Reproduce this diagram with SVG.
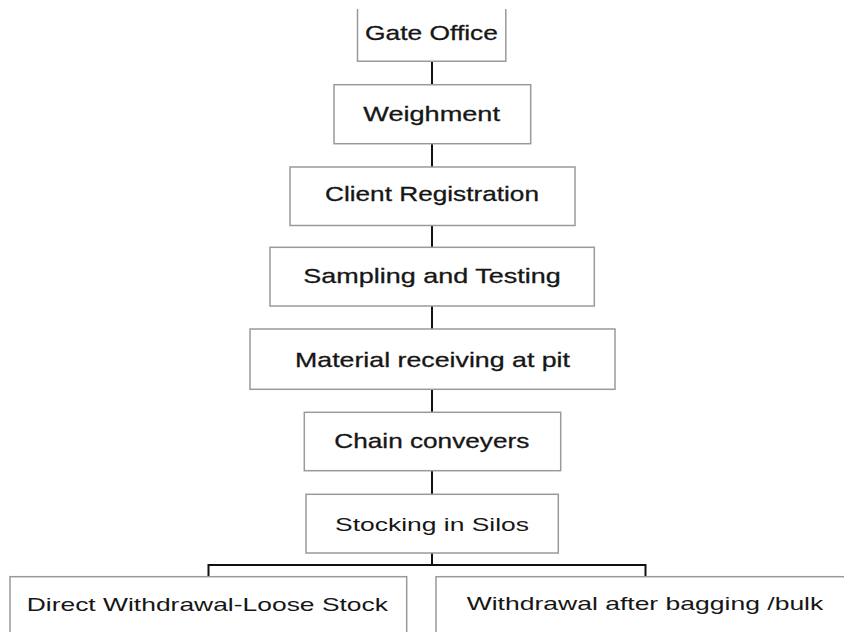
<svg xmlns="http://www.w3.org/2000/svg" width="844" height="632" viewBox="0 0 844 632">
<style>
.box{fill:#fff;stroke:#9a9a9a;stroke-width:1.5}
.lbl{font-family:"Liberation Sans",Arial,sans-serif;font-size:21px;fill:#161616;stroke:#161616;stroke-width:0.3}
.lbl2{font-family:"Liberation Sans",Arial,sans-serif;font-size:19px;fill:#161616}
.con{fill:none;stroke:#111;stroke-width:2}
</style>
<rect width="844" height="632" fill="#fff"/>
<g id="connectors">
<line class="con" x1="432" y1="61" x2="432" y2="85"/>
<line class="con" x1="432" y1="144" x2="432" y2="167"/>
<line class="con" x1="432" y1="225" x2="432" y2="247"/>
<line class="con" x1="432" y1="306" x2="432" y2="329"/>
<line class="con" x1="432" y1="389" x2="432" y2="412"/>
<line class="con" x1="432" y1="471" x2="432" y2="494"/>
<path class="con" d="M432 553 V565 M208.5 577 V565 H645.5 V577"/>
</g>
<g id="gate-office">
<path class="box" d="M357.5 9 V61.3 H505.8 V9"/>
<text class="lbl" x="365" y="39.5" textLength="133" lengthAdjust="spacingAndGlyphs">Gate Office</text>
</g>
<g id="weighment">
<rect class="box" x="334" y="84.7" width="196.7" height="59"/>
<text class="lbl" x="363.3" y="120.7" textLength="136.7" lengthAdjust="spacingAndGlyphs">Weighment</text>
</g>
<g id="client-registration">
<rect class="box" x="290" y="167" width="285" height="58.5"/>
<text class="lbl" x="325" y="201" textLength="214" lengthAdjust="spacingAndGlyphs">Client Registration</text>
</g>
<g id="sampling-testing">
<rect class="box" x="270" y="247.3" width="324.3" height="58.7"/>
<text class="lbl" x="303.3" y="283.3" textLength="257.4" lengthAdjust="spacingAndGlyphs">Sampling and Testing</text>
</g>
<g id="material-receiving">
<rect class="box" x="250" y="329" width="365" height="60.3"/>
<text class="lbl" x="295" y="366.7" textLength="275" lengthAdjust="spacingAndGlyphs">Material receiving at pit</text>
</g>
<g id="chain-conveyers">
<rect class="box" x="304.3" y="412.3" width="256.4" height="58.4"/>
<text class="lbl" x="334.3" y="448.3" textLength="195" lengthAdjust="spacingAndGlyphs">Chain conveyers</text>
</g>
<g id="stocking-silos">
<rect class="box" x="306" y="494.3" width="252.3" height="58.7"/>
<text class="lbl2" x="335" y="531" textLength="194" lengthAdjust="spacingAndGlyphs">Stocking in Silos</text>
</g>
<g id="direct-withdrawal">
<rect class="box" x="10" y="576.7" width="396.7" height="70"/>
<text class="lbl2" x="26.7" y="610.7" textLength="361.3" lengthAdjust="spacingAndGlyphs">Direct Withdrawal-Loose Stock</text>
</g>
<g id="withdrawal-bagging">
<rect class="box" x="436" y="576.7" width="420" height="70"/>
<text class="lbl2" x="466.7" y="610.3" textLength="356.6" lengthAdjust="spacingAndGlyphs">Withdrawal after bagging /bulk</text>
</g>
</svg>
